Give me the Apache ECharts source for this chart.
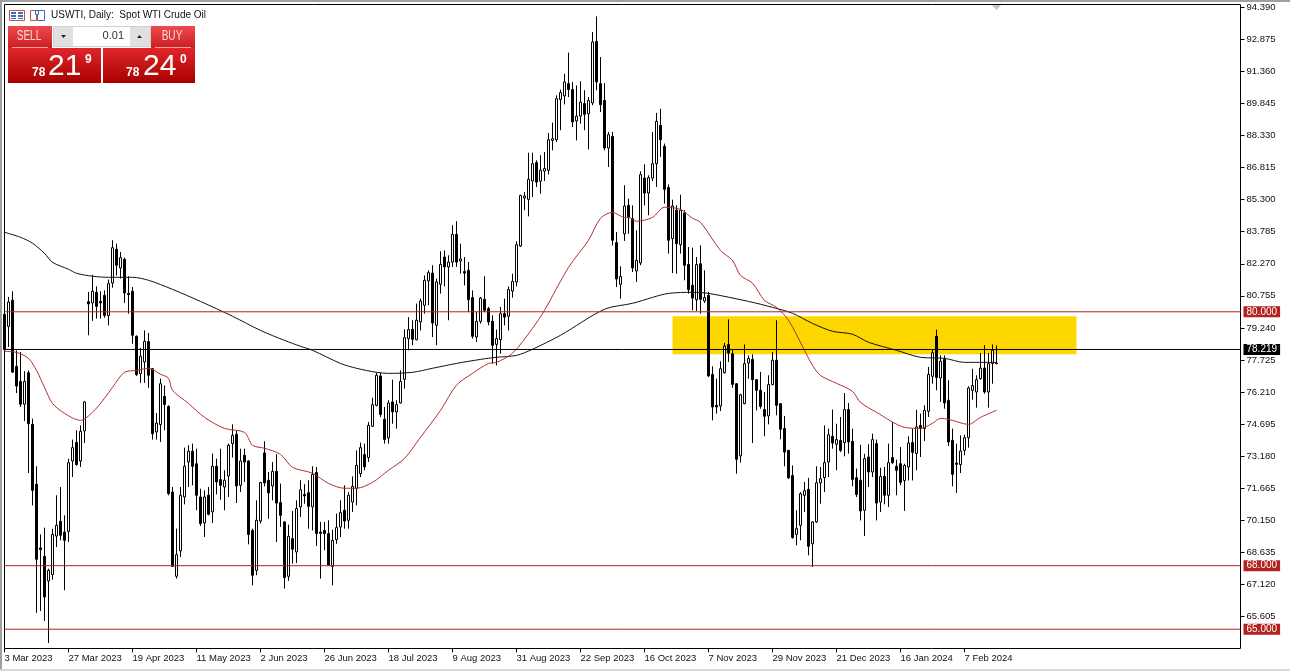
<!DOCTYPE html>
<html>
<head>
<meta charset="utf-8">
<style>
  html, body { margin: 0; padding: 0; background: #fff; }
  #main { width: 1290px; height: 671px; }
</style>
<script src="https://cdn.jsdelivr.net/npm/echarts@6/dist/echarts.min.js"></script>
</head>
<body>
<div id="main"></div>
<script>
// one label every 16 bars, like the terminal does
const tickLabels = ['3 Mar 2023', '27 Mar 2023', '19 Apr 2023', '11 May 2023', '2 Jun 2023', '26 Jun 2023', '18 Jul 2023', '9 Aug 2023', '31 Aug 2023', '22 Sep 2023', '16 Oct 2023', '7 Nov 2023', '29 Nov 2023', '21 Dec 2023', '16 Jan 2024', '7 Feb 2024']
const priceTicks = [94.39, 92.875, 91.36, 89.845, 88.33, 86.815, 85.3, 83.785, 82.27, 80.755, 79.24, 77.725, 76.21, 74.695, 73.18, 71.665, 70.15, 68.635, 67.12, 65.605]

const opens = [
  79.88, 79.31, 80.54, 77.42, 76.71, 75.63, 77.12, 74.68, 71.85, 68.84, 68.44, 67.28, 67.58, 69.40, 70.10, 69.59, 69.62, 72.95, 73.83, 72.95,
  74.37, 80.48, 80.42, 80.92, 80.49, 80.78, 79.82, 81.36, 82.95, 82.07, 82.48, 80.87, 80.97, 78.84, 77.08, 77.63, 78.60, 77.31, 74.32, 74.67,
  76.00, 75.53, 71.48, 67.50, 68.70, 71.25, 72.90, 73.41, 72.82, 71.25, 70.02, 71.33, 70.54, 72.70, 72.07, 71.72, 72.24, 73.77, 74.21, 71.80,
  73.22, 72.95, 69.67, 67.78, 70.11, 73.33, 72.04, 71.77, 72.46, 70.98, 70.07, 67.50, 69.28, 68.65, 70.78, 71.37, 71.45, 70.78, 72.40, 69.59,
  69.67, 69.52, 67.97, 69.23, 69.83, 70.62, 70.15, 71.01, 71.66, 72.35, 73.25, 73.11, 74.59, 75.58, 76.97, 74.92, 74.04, 75.74, 75.27, 75.69,
  76.81, 78.73, 79.17, 78.68, 79.52, 80.31, 81.46, 81.83, 79.36, 81.30, 82.59, 82.12, 82.35, 83.66, 82.40, 81.90, 81.96, 80.67, 78.81, 79.55,
  80.59, 80.15, 79.55, 78.46, 78.68, 79.91, 79.79, 80.98, 81.41, 83.11, 85.38, 85.31, 86.18, 87.05, 86.17, 86.65, 86.69, 88.10, 88.13, 90.03,
  90.20, 90.78, 90.50, 89.02, 89.25, 89.84, 89.36, 89.87, 92.78, 90.78, 89.99, 87.74, 88.29, 83.27, 81.30, 83.69, 85.03, 84.40, 81.93, 82.31,
  86.32, 85.61, 86.32, 87.00, 88.81, 87.82, 85.87, 83.46, 84.80, 83.17, 84.67, 82.24, 81.25, 80.57, 82.27, 80.51, 80.78, 77.04, 75.58, 75.55,
  77.12, 78.45, 78.02, 76.60, 73.19, 75.66, 77.58, 77.75, 76.79, 76.29, 75.38, 75.08, 76.56, 77.71, 75.66, 74.48, 73.45, 72.26, 69.48, 69.91,
  71.33, 71.61, 69.04, 70.07, 71.92, 72.16, 72.90, 74.11, 73.74, 73.92, 73.82, 75.38, 73.88, 72.16, 72.04, 70.62, 73.14, 72.43, 73.77, 71.01,
  72.22, 71.33, 73.11, 72.70, 72.82, 72.03, 72.67, 73.82, 73.30, 74.63, 74.48, 75.30, 76.95, 78.84, 76.87, 77.75, 75.82, 73.93, 72.85, 72.78,
  73.45, 74.05, 76.29, 76.21, 76.84, 77.34, 76.21, 77.55, 77.55
]
const closes = [
  78.21, 80.46, 77.15, 76.49, 75.63, 76.71, 74.71, 71.56, 68.30, 68.76, 66.52, 67.78, 69.48, 69.91, 69.44, 69.20, 72.87, 73.58, 72.78, 74.35,
  75.74, 80.37, 80.97, 80.26, 80.42, 79.83, 81.33, 83.03, 82.20, 82.56, 80.89, 80.81, 78.89, 77.03, 77.90, 78.60, 77.00, 74.24, 74.74, 76.60,
  75.61, 71.41, 67.97, 68.52, 71.33, 72.70, 73.41, 72.70, 71.33, 69.99, 71.25, 70.43, 72.70, 71.96, 71.80, 72.04, 73.69, 74.16, 71.77, 72.95,
  72.90, 69.48, 67.55, 70.15, 71.93, 71.91, 71.44, 72.46, 70.96, 70.38, 67.44, 69.39, 68.78, 70.70, 71.59, 71.30, 70.81, 72.32, 69.52, 69.53,
  69.52, 68.02, 69.20, 69.80, 70.51, 70.11, 71.33, 71.75, 72.74, 73.58, 72.67, 74.63, 75.61, 77.00, 75.15, 73.97, 75.69, 75.27, 75.61, 76.71,
  78.78, 79.16, 78.70, 79.60, 80.51, 81.49, 81.85, 79.47, 81.41, 82.24, 82.12, 82.35, 83.66, 82.35, 82.50, 81.83, 80.57, 78.84, 79.55, 80.65,
  80.07, 79.52, 78.42, 78.73, 79.91, 79.75, 81.05, 81.44, 83.17, 85.50, 85.47, 86.26, 87.00, 86.13, 86.69, 86.77, 88.13, 88.18, 90.07, 90.36,
  90.86, 90.50, 88.97, 89.25, 89.91, 89.33, 89.99, 92.75, 90.86, 89.79, 87.74, 88.37, 83.38, 81.55, 81.67, 85.00, 84.45, 82.07, 82.43, 86.48,
  85.61, 86.34, 87.00, 89.00, 88.13, 85.79, 83.38, 85.00, 83.22, 84.80, 82.20, 81.05, 80.65, 82.23, 80.59, 80.67, 76.97, 75.50, 75.50, 77.31,
  78.38, 78.05, 76.57, 73.03, 76.08, 77.55, 77.79, 76.79, 76.29, 75.53, 75.06, 76.56, 77.71, 75.58, 74.45, 73.37, 72.15, 69.33, 69.75, 71.40,
  71.55, 68.92, 70.07, 71.92, 72.11, 72.87, 74.19, 73.80, 73.96, 73.45, 75.38, 73.85, 72.08, 71.37, 70.59, 73.06, 72.43, 73.96, 70.96, 72.22,
  71.33, 72.87, 72.87, 72.51, 71.94, 72.74, 73.80, 73.36, 74.56, 74.48, 75.34, 77.04, 78.07, 76.89, 77.66, 75.69, 73.85, 72.32, 72.79, 73.42,
  74.05, 76.40, 76.51, 76.79, 77.34, 76.21, 77.55, 78.18, 77.58
]
const lows = [
  78.15, 78.34, 77.11, 76.16, 75.50, 74.84, 72.38, 70.85, 65.77, 65.86, 65.39, 64.35, 67.34, 68.88, 69.20, 66.84, 69.12, 72.19, 72.73, 72.67,
  73.80, 78.89, 79.57, 79.68, 79.68, 79.72, 79.36, 81.14, 81.72, 81.57, 80.42, 79.91, 78.49, 76.97, 76.64, 76.64, 76.41, 73.96, 73.96, 73.85,
  74.40, 71.33, 67.94, 67.39, 68.41, 70.90, 71.72, 71.80, 70.62, 69.88, 69.36, 70.38, 70.02, 71.37, 71.12, 70.62, 71.25, 73.11, 70.96, 71.48,
  71.96, 69.01, 67.07, 67.55, 69.99, 71.75, 70.22, 71.09, 69.12, 69.83, 66.92, 67.28, 68.10, 68.13, 70.30, 70.93, 69.75, 69.67, 68.93, 67.39,
  68.73, 67.99, 67.07, 69.04, 69.36, 69.75, 69.75, 70.54, 70.85, 72.19, 72.51, 72.90, 74.56, 75.53, 75.03, 73.77, 73.77, 74.71, 74.48, 75.66,
  76.37, 78.18, 78.42, 78.65, 79.12, 79.91, 80.31, 78.81, 78.42, 80.86, 81.20, 79.60, 82.12, 82.12, 81.80, 81.25, 79.99, 78.73, 78.57, 79.44,
  79.99, 79.36, 77.55, 77.47, 78.02, 79.36, 79.12, 80.67, 81.20, 83.06, 84.80, 84.51, 85.43, 85.90, 85.58, 86.18, 86.50, 87.63, 88.02, 88.58,
  89.80, 90.15, 88.73, 88.10, 88.89, 88.58, 87.68, 89.76, 90.47, 89.44, 87.63, 86.84, 83.14, 81.17, 80.62, 83.35, 83.69, 81.88, 81.41, 82.20,
  85.03, 84.56, 86.18, 85.90, 87.32, 85.11, 82.75, 81.83, 81.80, 82.75, 81.49, 80.86, 80.07, 80.04, 79.91, 80.42, 76.92, 74.87, 75.19, 75.31,
  77.08, 77.63, 76.41, 72.35, 72.87, 75.63, 76.84, 73.80, 75.34, 75.42, 74.12, 74.68, 76.52, 75.11, 73.97, 72.70, 72.11, 69.28, 68.96, 69.20,
  70.54, 68.49, 67.94, 70.02, 70.93, 71.48, 72.19, 73.53, 72.51, 73.37, 73.17, 73.30, 71.75, 71.25, 70.14, 69.40, 71.72, 72.19, 70.14, 70.54,
  70.90, 70.78, 72.82, 71.33, 71.80, 70.59, 72.03, 72.03, 72.51, 73.14, 73.89, 75.03, 76.60, 76.29, 75.74, 75.42, 73.66, 71.75, 71.44, 72.38,
  73.22, 73.58, 75.85, 75.47, 76.79, 76.13, 75.47, 76.60, 77.52
]
const highs = [
  79.99, 80.70, 80.97, 78.18, 78.10, 77.20, 77.23, 74.95, 72.70, 69.48, 69.80, 67.86, 69.75, 71.33, 71.72, 70.38, 73.06, 73.96, 74.40, 74.63,
  75.77, 80.94, 81.75, 81.20, 80.97, 81.01, 81.52, 83.38, 83.22, 82.83, 82.56, 81.68, 81.17, 78.89, 78.30, 79.12, 79.00, 77.34, 75.22, 76.84,
  76.52, 75.58, 71.72, 69.75, 71.72, 73.58, 73.69, 73.77, 73.53, 71.64, 71.56, 71.72, 73.30, 73.06, 73.53, 72.51, 73.77, 74.68, 74.40, 73.53,
  73.53, 72.98, 69.75, 71.09, 71.96, 73.88, 72.43, 72.90, 73.27, 71.88, 70.10, 69.94, 70.59, 71.09, 72.04, 71.85, 72.04, 72.70, 72.67, 70.07,
  70.07, 70.15, 69.70, 70.46, 71.09, 71.80, 71.48, 72.22, 73.45, 73.82, 73.77, 74.79, 75.94, 77.12, 77.12, 75.50, 75.82, 76.79, 75.82, 77.23,
  79.17, 79.75, 79.60, 80.39, 80.62, 81.72, 81.96, 82.20, 81.57, 82.86, 82.90, 82.67, 84.09, 84.28, 83.22, 82.59, 82.35, 81.01, 79.99, 80.70,
  81.68, 80.23, 79.83, 79.16, 80.23, 80.62, 81.20, 81.80, 83.33, 85.53, 85.66, 87.52, 87.52, 87.16, 87.40, 87.55, 88.45, 88.94, 90.23, 90.50,
  91.25, 92.25, 90.86, 90.70, 90.89, 90.47, 90.15, 93.22, 93.96, 92.04, 90.81, 88.50, 88.50, 83.77, 82.15, 85.98, 85.35, 85.03, 83.85, 86.64,
  86.97, 86.45, 88.50, 89.40, 89.60, 87.95, 86.02, 85.30, 85.03, 85.53, 84.80, 83.06, 83.03, 82.59, 83.14, 81.96, 80.94, 77.42, 76.84, 77.66,
  78.53, 79.64, 78.21, 76.63, 76.13, 78.46, 77.94, 77.99, 76.82, 77.16, 76.21, 77.00, 78.10, 79.60, 75.69, 75.08, 73.48, 72.74, 70.62, 71.48,
  71.96, 72.15, 70.10, 72.70, 72.67, 74.63, 74.48, 75.38, 74.71, 75.03, 76.16, 75.69, 74.48, 72.59, 73.72, 73.29, 73.74, 74.24, 73.96, 72.63,
  72.67, 73.77, 74.79, 73.01, 73.61, 72.82, 74.11, 74.48, 75.37, 75.19, 75.58, 77.39, 78.21, 79.16, 77.94, 77.94, 76.76, 74.48, 73.77, 74.16,
  74.19, 76.48, 77.31, 77.00, 78.05, 78.42, 78.05, 78.46, 78.41
]

// moving averages at the bars listed
const slowMaBars = [0, 4, 7, 10, 12, 16, 18, 22, 26, 32, 36, 42, 49, 57, 64, 70, 74, 77, 84, 88, 93, 96, 102, 107, 113, 119, 123, 128, 132, 139, 150, 157, 162, 166, 172, 176, 186, 192, 197, 202, 207, 212, 216, 223, 229, 235, 240, 245, 248]
const slowMa = [83.76, 83.52, 83.24, 82.76, 82.34, 82.01, 81.82, 81.68, 81.63, 81.63, 81.49, 81.06, 80.49, 79.79, 79.12, 78.65, 78.37, 78.18, 77.56, 77.33, 77.14, 77.09, 77.14, 77.33, 77.56, 77.75, 77.85, 77.94, 78.23, 78.89, 80.12, 80.40, 80.68, 80.87, 80.92, 80.87, 80.49, 80.21, 79.93, 79.45, 79.08, 78.94, 78.56, 78.18, 77.85, 77.80, 77.61, 77.61, 77.61]
const fastMaBars = [0, 3, 6, 8, 10, 12, 15, 19, 22, 25, 27, 30, 33, 36, 39, 41, 42, 46, 50, 55, 60, 62, 65, 69, 72, 77, 81, 85, 88, 92, 96, 100, 104, 109, 113, 117, 121, 123, 127, 132, 135, 141, 146, 149, 152, 155, 156, 158, 162, 165, 169, 172, 174, 179, 182, 184, 187, 190, 193, 196, 200, 202, 204, 208, 212, 214, 218, 225, 229, 232, 234, 236, 241, 244, 248]
const fastMa = [78.13, 78.08, 77.80, 77.23, 76.43, 75.67, 75.20, 74.87, 75.25, 75.91, 76.43, 77.14, 77.23, 77.33, 77.05, 76.86, 76.29, 75.67, 75.01, 74.49, 74.30, 73.69, 73.55, 73.26, 72.65, 72.37, 71.89, 71.66, 71.66, 71.94, 72.51, 73.07, 74.07, 75.34, 76.53, 77.09, 77.56, 77.61, 78.04, 79.22, 80.07, 82.10, 83.38, 84.42, 84.70, 84.46, 84.46, 84.28, 84.46, 84.94, 84.84, 84.42, 84.23, 82.90, 82.43, 81.72, 81.35, 80.54, 80.21, 79.60, 78.18, 77.47, 76.99, 76.62, 76.24, 75.72, 75.25, 74.54, 74.49, 74.73, 74.96, 74.92, 74.68, 75.01, 75.34]

const levels = [80, 68, 65]
const lastPrice = 78.219
const zoneBars = [167, 268]
const zonePrices = [79.79, 77.99]

const barCount = 310
const LABEL_FONT = '"Liberation Sans", sans-serif'
const RED_LINE = '#B32020'

const categories = []
for (let i = 0; i < barCount; i++) {
    categories.push(i % 16 === 0 && tickLabels[i / 16] ? tickLabels[i / 16] : '')
}
const candles = opens.map((o, i) => [o, closes[i], lows[i], highs[i]])

// horizontal price lines, one series each, badge sits at the axis side
function levelSeries (price, color) {
    return {
        type: 'line',
        name: 'level ' + price,
        data: [[0, price], [barCount - 1, price]],
        z: 4,
        silent: true,
        showSymbol: false,
        lineStyle: { color, width: 1 },
        endLabel: {
            show: true,
            distance: 3,
            formatter: price.toFixed(3),
            color: '#fff',
            backgroundColor: color,
            padding: [1, 3, 0, 3],
            fontFamily: LABEL_FONT,
            fontSize: 10
        }
    }
}

// terminal chrome around the chart: window edge, frame, trade panel, title
const redBox = { type: 'linear', x: 0, y: 0, x2: 0, y2: 1, colorStops: [{ offset: 0, color: '#E0262A' }, { offset: 1, color: '#A80000' }] }
const redHead = { type: 'linear', x: 0, y: 0, x2: 0, y2: 1, colorStops: [{ offset: 0, color: '#EE4A4E' }, { offset: 1, color: '#CC1F22' }] }
function box (x, y, w, h, fill, stroke) {
    return { type: 'rect', shape: { x, y, width: w, height: h }, style: { fill: fill || 'none', stroke: stroke || 'none', lineWidth: 1 }, silent: true }
}
function label (text, x, y, font, fill, align) {
    return { type: 'text', style: { text, x, y, font: font + ' ' + LABEL_FONT, fill: fill || '#fff', align: align || 'left', verticalAlign: 'middle' }, silent: true, z: 10 }
}
// the panel captions are tall and narrow
function narrowLabel (text, x, y) {
    return { type: 'text', x, y, scaleX: 0.72, style: { text, x: 0, y: 0, font: '14px ' + LABEL_FONT, fill: '#FAD9D9', align: 'center', verticalAlign: 'middle' }, silent: true, z: 10 }
}
function tri (points, fill) {
    return { type: 'polygon', shape: { points }, style: { fill }, silent: true, z: 10 }
}
const chrome = [
    box(0, 0, 1290, 2, '#A0A0A0'),
    box(0, 0, 2, 671, '#A0A0A0'),
    box(0, 669, 1290, 2, '#D8D8D8'),
    box(4.5, 4.5, 1236, 644, 'none', '#000'),
    tri([[992, 5], [1001, 5], [996.5, 10]], '#C4C4C4'),
    // title icons
    box(9.5, 10.5, 15, 10, '#fff', '#C8504A'),
    box(11, 12, 5, 2, '#3A6FB5'), box(18, 12, 5, 2, '#3A6FB5'),
    box(11, 15, 5, 2, '#3A6FB5'), box(18, 15, 5, 2, '#3A6FB5'),
    box(11, 18, 5, 1, '#3A6FB5'), box(18, 18, 5, 1, '#3A6FB5'),
    box(30.5, 10.5, 6, 10, '#fff', '#C8504A'),
    box(37.5, 10.5, 7, 10, '#fff', '#3A6FB5'),
    box(35.5, 10.5, 3, 4, '#fff', '#3A6FB5'),
    label('USWTI, Daily:  Spot WTI Crude Oil', 51, 15.5, '10px', '#111'),
    // sell / buy panel
    box(8, 26, 44, 22, redHead),
    box(151, 26, 44, 22, redHead),
    box(8, 48, 93, 35, redBox),
    box(103, 48, 92, 35, redBox),
    box(12, 47, 36, 1, '#F3A0A0'),
    box(155, 47, 36, 1, '#F3A0A0'),
    box(53.5, 26.5, 97, 20, '#fff', '#D0D0D0'),
    box(54, 27, 19, 19, '#E0E0E0'),
    box(130, 27, 20, 19, '#E0E0E0'),
    tri([[61, 35], [66, 35], [63.5, 38]], '#222'),
    tri([[137, 38], [142, 38], [139.5, 35]], '#222'),
    label('0.01', 124, 36, '11px', '#333', 'right'),
    narrowLabel('SELL', 29, 36.5),
    narrowLabel('BUY', 172, 36.5),
    label('78', 32, 72.5, 'bold 12px'),
    label('21', 48, 66.5, '30px'),
    label('9', 85, 60, 'bold 12px'),
    label('78', 126, 72.5, 'bold 12px'),
    label('24', 143, 66.5, '30px'),
    label('0', 180, 60, 'bold 12px')
]

const option = {
    animation: false,
    backgroundColor: '#fff',
    graphic: { elements: chrome },
    grid: { left: 4.5, width: 1236, top: 4.3, height: 644, containLabel: false },
    xAxis: {
        type: 'category',
        data: categories,
        boundaryGap: false,
        axisLine: { show: false },
        axisTick: { show: true, length: 4, interval: (i) => i % 16 === 0 && i < 256, lineStyle: { color: '#000' } },
        axisLabel: {
            interval: (i) => i % 16 === 0 && i < 256,
            align: 'left',
            margin: 5,
            color: '#111',
            fontFamily: LABEL_FONT,
            fontSize: 9.5
        },
        splitLine: { show: false }
    },
    yAxis: {
        type: 'value',
        position: 'right',
        min: 64.097,
        max: 94.532,
        axisLine: { show: false },
        axisTick: { show: true, length: 4, customValues: priceTicks, lineStyle: { color: '#000' } },
        axisLabel: {
            customValues: priceTicks,
            margin: 6,
            color: '#111',
            fontFamily: LABEL_FONT,
            fontSize: 9.5,
            formatter: (v) => v.toFixed(3)
        },
        splitLine: { show: false }
    },
    series: [
        {
            type: 'line',
            name: 'zone',
            data: [],
            z: 1,
            silent: true,
            markArea: {
                silent: true,
                itemStyle: { color: '#FFD700', opacity: 1 },
                data: [[{ xAxis: zoneBars[0], yAxis: zonePrices[0] }, { xAxis: zoneBars[1], yAxis: zonePrices[1] }]]
            }
        },
        {
            type: 'candlestick',
            name: 'USWTI',
            data: candles,
            z: 2,
            clip: false,
            barWidth: 3,
            itemStyle: { color: '#fff', color0: '#000', borderColor: '#000', borderColor0: '#000', borderWidth: 1 }
        },
        {
            type: 'line',
            name: 'slow',
            data: slowMaBars.map((b, i) => [b, slowMa[i]]),
            z: 3,
            smooth: 0.3,
            showSymbol: false,
            lineStyle: { color: '#111', width: 1 }
        },
        {
            type: 'line',
            name: 'fast',
            data: fastMaBars.map((b, i) => [b, fastMa[i]]),
            z: 3,
            smooth: 0.3,
            showSymbol: false,
            lineStyle: { color: '#B03030', width: 1 }
        },
        ...levels.map((p) => levelSeries(p, RED_LINE)),
        levelSeries(lastPrice, '#000')
    ]
}

const myChart = echarts.init(document.getElementById('main'), null, { renderer: 'canvas' })
myChart.setOption(option)
</script>
</body>
</html>
